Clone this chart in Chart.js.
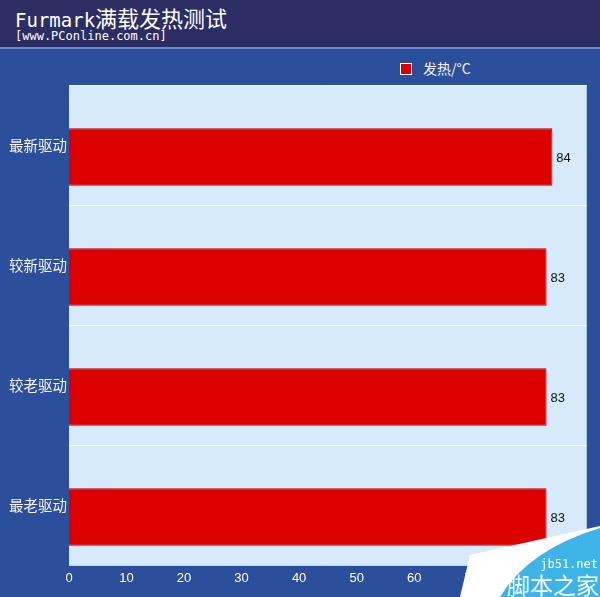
<!DOCTYPE html>
<html>
<head>
<meta charset="utf-8">
<script src="https://cdn.jsdelivr.net/npm/chart.js@4"></script>
<style>
  html, body { margin: 0; padding: 0; }
  body { width: 600px; height: 597px; background: #2b4f9b; position: relative; overflow: hidden; }
  .header { position: absolute; left: 0; top: 0; width: 600px; height: 47px; background: #2b2d63; border-bottom: 2px solid #6a8ad0; }
  .title { position: absolute; left: 15px; top: 6px; line-height: 22px; color: #fff; white-space: nowrap; }
  .title .en { font-family: "DejaVu Sans Mono", monospace; font-size: 19px; }
  .title .cn { font-family: "Noto Sans CJK SC", sans-serif; font-size: 22px; }
  .sub { position: absolute; left: 15px; top: 29px; line-height: 14px; color: #fff; font-family: "DejaVu Sans Mono", monospace; font-size: 12px; }
  .legend { position: absolute; left: 400px; top: 59px; line-height: 18px; color: #f4f4f4; font-family: "Noto Sans CJK SC", sans-serif; font-size: 14px; white-space: nowrap; }
  .legend i { display: inline-block; width: 10px; height: 10px; background: #dc0000; border: 1.5px solid #fff; vertical-align: -1px; margin-right: 11px; }
  canvas { position: absolute; left: 0; top: 0; }
</style>
</head>
<body>
<div class="header">
  <div class="title"><span class="en">Furmark</span><span class="cn">满载发热测试</span></div>
  <div class="sub">[www.PConline.com.cn]</div>
</div>
<div class="legend" id="legend"></div>
<canvas id="chart" width="600" height="597"></canvas>
<script>
// 資料
var categories = ["最新驱动", "较新驱动", "较老驱动", "最老驱动"];
var heatValues = [84, 83, 83, 83];
var seriesName = "发热/°C";
var xTicks = [0, 10, 20, 30, 40, 50, 60, 70, 80, 90];

const BarShift = 12; // 長條在每列中往下偏移

// 圖例
document.getElementById("legend").innerHTML = "<i></i>" + seriesName;

// 繪圖區背景
var plotBg = {
  id: "plotBg",
  beforeDraw(chart) {
    let a = chart.chartArea;
    let ctx = chart.ctx;
    ctx.save();
    ctx.fillStyle = "#d6eafb";
    ctx.fillRect(a.left, a.top, a.right - a.left, a.bottom - a.top);
    ctx.restore();
  },
  beforeDatasetsDraw(chart) {
    let ctx = chart.ctx;
    ctx.save();
    ctx.translate(0, BarShift);
    ctx.shadowColor = "rgba(230, 90, 110, 0.6)";
    ctx.shadowOffsetX = 2;
    ctx.shadowOffsetY = 2;
    ctx.shadowBlur = 1;
  },
  afterDatasetsDraw(chart) {
    let ctx = chart.ctx;
    ctx.restore();
    // 數值標籤
    ctx.save();
    ctx.fillStyle = "#111";
    ctx.font = "13px 'Liberation Sans', Arial, sans-serif";
    ctx.textBaseline = "middle";
    chart.getDatasetMeta(0).data.forEach((bar, i) => {
      ctx.fillText(heatValues[i], bar.x + 4, bar.y + BarShift + 1);
    });
    ctx.restore();
  },
};

// 右下浮水印
var watermark = {
  id: "watermark",
  afterDraw(chart) {
    let ctx = chart.ctx;
    ctx.save();
    ctx.fillStyle = "#ffffff";
    ctx.beginPath();
    ctx.moveTo(460, 597);
    ctx.lineTo(470, 555);
    ctx.lineTo(600, 526);
    ctx.lineTo(600, 597);
    ctx.closePath();
    ctx.fill();
    ctx.fillStyle = "#3db4e8";
    ctx.beginPath();
    ctx.moveTo(500, 597);
    ctx.quadraticCurveTo(528, 550, 600, 528);
    ctx.lineTo(600, 597);
    ctx.closePath();
    ctx.fill();
    ctx.fillStyle = "#fff";
    ctx.textAlign = "right";
    ctx.font = "12px 'DejaVu Sans Mono', monospace";
    ctx.fillText("jb51.net", 598, 568);
    ctx.font = "23px 'Noto Sans CJK SC', sans-serif";
    ctx.fillText("脚本之家", 599, 594);
    ctx.restore();
  },
};

var ctx = document.getElementById("chart");
var chart = new Chart(ctx, {
  type: "bar",
  data: {
    labels: categories,
    datasets: [
      {
        label: seriesName,
        data: heatValues,
        backgroundColor: "#dc0000",
        borderColor: "#b40000",
        borderWidth: 1,
        barPercentage: 0.48,
        categoryPercentage: 1,
      },
    ],
  },
  options: {
    indexAxis: "y",
    responsive: false,
    animation: false,
    layout: { padding: { top: 85, right: 12, left: 0, bottom: 0 } },
    plugins: {
      legend: { display: false },
      title: { display: false },
      tooltip: { enabled: false },
    },
    scales: {
      x: {
        min: 0,
        max: 90,
        afterBuildTicks(scale) {
          scale.ticks = xTicks.map((v) => ({ value: v }));
        },
        afterFit(scale) {
          scale.height = 32;
        },
        grid: { display: false, drawTicks: false },
        border: { display: false },
        ticks: {
          color: "#ffffff",
          padding: 6,
          maxRotation: 0,
          font: { size: 13, family: "'Liberation Sans', Arial, sans-serif" },
        },
      },
      y: {
        afterFit(scale) {
          scale.width = 69;
        },
        grid: {
          offset: true,
          drawTicks: false,
          color: "rgba(255, 255, 255, 0.75)",
        },
        border: { display: false },
        ticks: {
          color: "#f4f4f4",
          padding: 2,
          font: { size: 14.5, family: "'Noto Sans CJK SC', sans-serif" },
        },
      },
    },
  },
  plugins: [plotBg, watermark],
});
</script>
</body>
</html>
